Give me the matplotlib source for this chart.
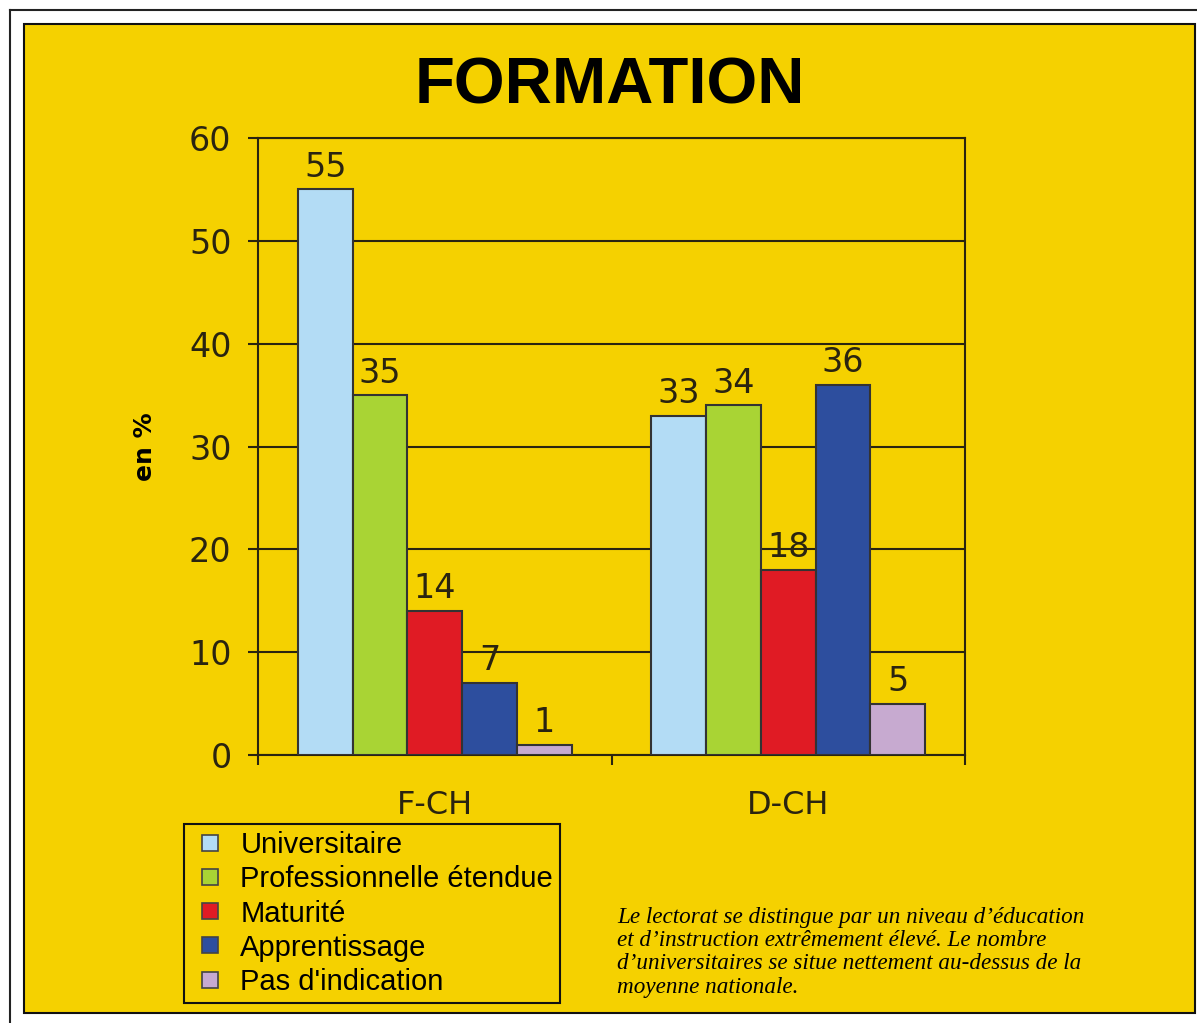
import matplotlib.pyplot as plt
from matplotlib.patches import Rectangle
from matplotlib.lines import Line2D
import numpy as np

# data
regions = ['F-CH', 'D-CH']
series = ['Universitaire', 'Professionnelle étendue', 'Maturité', 'Apprentissage', "Pas d'indication"]
universitaire = [55, 33]
professionnelle = [35, 34]
maturite = [14, 18]
apprentissage = [7, 36]
pas_indication = [1, 5]
values = [universitaire, professionnelle, maturite, apprentissage, pas_indication]
colors = ['#b3dcf5', '#a9d434', '#e01b24', '#2d4e9e', '#c7aad0']
yticks = [0, 10, 20, 30, 40, 50, 60]

caption = ("Le lectorat se distingue par un niveau d\u2019éducation\n"
           "et d\u2019instruction extrêmement élevé. Le nombre\n"
           "d\u2019universitaires se situe nettement au-dessus de la\n"
           "moyenne nationale.")

W, H = 1197, 1023
yellow = '#f5d100'
dark = '#2a2410'

fig = plt.figure(figsize=(W / 100, H / 100), dpi=100)
fig.patch.set_facecolor('white')

# outer frame and yellow panel
fig.add_artist(Line2D([9.5 / W, 9.5 / W], [0, 1 - 9.5 / H], color='#222222', lw=1.5))
fig.add_artist(Line2D([9.5 / W, 1], [1 - 9.5 / H, 1 - 9.5 / H], color='#222222', lw=1.5))
fig.add_artist(Rectangle((24 / W, 1 - 1013 / H), (1195 - 24) / W, (1013 - 24) / H,
                         transform=fig.transFigure, facecolor=yellow,
                         edgecolor='#111111', lw=1.5, zorder=0))

ax = fig.add_axes([258 / W, 1 - 755 / H, 707 / W, 617 / H])
ax.set_facecolor('none')

x = np.arange(len(regions))
bw = 0.155
for i, (name, vals, c) in enumerate(zip(series, values, colors)):
    bars = ax.bar(x + (i - 2) * bw, vals, bw, color=c, edgecolor='#333333',
                  linewidth=1.5, label=name, zorder=3)
    ax.bar_label(bars, padding=4, fontsize=24, color=dark)

ax.set_xlim(-0.5, 1.5)
ax.set_ylim(0, 60)
ax.set_yticks(yticks)
ax.yaxis.grid(True, color=dark, lw=1.5, zorder=1)
ax.set_axisbelow(True)
for s in ax.spines.values():
    s.set_color(dark)
    s.set_linewidth(1.5)

ax.tick_params(axis='y', direction='out', length=7, width=1.5, color=dark,
               labelsize=24, labelcolor=dark, pad=12)
ax.set_xticks([-0.5, 0.5, 1.5])
ax.set_xticklabels([])
ax.tick_params(axis='x', which='major', direction='out', length=7, width=1.5, color=dark)
ax.set_xticks(x, minor=True)
ax.set_xticklabels(regions, minor=True)
ax.tick_params(axis='x', which='minor', length=0, labelsize=23, labelcolor=dark, pad=25)

ax.set_ylabel('en %', fontsize=18, fontweight='bold', labelpad=23)

fig.text(610 / W, 1 - 86 / H, 'FORMATION', family='Liberation Sans', fontsize=47,
         fontweight='bold', ha='center', va='center')

handles = [Line2D([], [], marker='s', ls='none', markersize=11, markerfacecolor=c,
                  markeredgecolor='#444444', markeredgewidth=1.2) for c in colors]
leg = fig.legend(handles, series, loc='upper left', bbox_to_anchor=(184 / W, 1 - 824 / H),
                 borderaxespad=0, frameon=True, fancybox=False, edgecolor='#111111',
                 facecolor=yellow, framealpha=1, prop={'family': 'Liberation Sans', 'size': 21},
                 labelspacing=0.21, handlelength=1.3, handletextpad=0.38, borderpad=0.25)
leg.get_frame().set_linewidth(1.5)

fig.text(617 / W, 1 - 907 / H, caption, family='Liberation Serif', style='italic',
         fontsize=16.7, ha='left', va='top', linespacing=1.14)

fig.savefig('out.png', dpi=100)
